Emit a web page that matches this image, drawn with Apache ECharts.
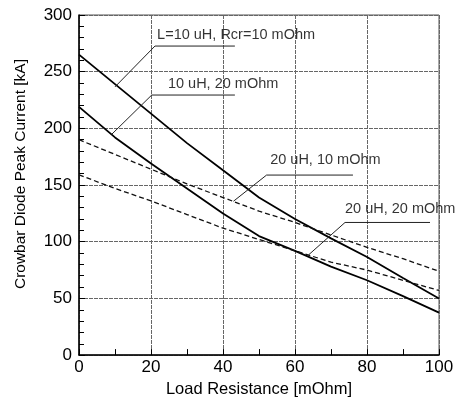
<!DOCTYPE html>
<html>
<head>
<meta charset="utf-8">
<script src="https://cdn.jsdelivr.net/npm/echarts@6/dist/echarts.min.js"></script>
<style>
  html, body { margin: 0; padding: 0; background: #fff; }
  #chart { width: 461px; height: 403px; }
</style>
</head>
<body>
<div id="chart"></div>
<script>
// load resistance [mOhm]
const xValues = [0, 10, 20, 30, 40, 50, 60, 70, 80, 90, 100]
// peak current [kA]
const l10r10 = [265, 239, 213, 187, 163, 139, 120, 103, 86.5, 68, 50]
const l10r20 = [219, 192, 169, 147, 125, 105, 92, 78, 66, 52, 37.5]
const l20r10 = [190, 177, 164, 151, 139, 127, 117, 106, 95, 85, 74]
const l20r20 = [159, 147, 136, 124, 112, 102, 92, 82, 75, 66, 57]

// annotation texts + leader lines (data coords)
const noteTexts = ['L=10 uH, Rcr=10 mOhm', '10 uH, 20 mOhm', '20 uH, 10 mOhm', '20 uH, 20 mOhm']
const notePos = [[21.7, 282.7], [24.7, 239.5], [53.1, 172], [73.9, 128.8]]
const leaders = [
  [[10.0, 236.6], [21.1, 272.6], [43.3, 272.6]],
  [[9.1, 194.8], [20.2, 229.4], [43.3, 229.4]],
  [[42.9, 135.7], [52.1, 158.8], [76.1, 158.8]],
  [[63.7, 88.2], [73.9, 117.0], [97.5, 117.0]]
]

const pair = (ys) => xValues.map((x, i) => [x, ys[i]])
const font = 'Liberation Sans, Arial, sans-serif'

const curve = (ys, dashed) => ({
  type: 'line',
  data: pair(ys),
  symbol: 'none',
  silent: true,
  lineStyle: dashed
    ? { color: '#111', width: 1.3, type: [5, 3] }
    : { color: '#000', width: 1.8 }
})

const leaderSeries = leaders.map(pts => ({
  type: 'line',
  data: pts,
  symbol: 'none',
  silent: true,
  lineStyle: { color: '#222', width: 1 }
}))

const option = {
  animation: false,
  grid: {
    left: 79, right: 22, top: 15, bottom: 41,
    show: true,
    borderColor: '#555',
    borderWidth: 1
  },
  xAxis: {
    type: 'value',
    min: 0, max: 100, interval: 20,
    name: 'Load Resistance [mOhm]',
    nameLocation: 'middle',
    nameGap: 19,
    nameTextStyle: { fontFamily: font, fontSize: 16.5, color: '#000' },
    axisLine: { lineStyle: { color: '#000', width: 1.5 } },
    axisTick: { inside: true, length: 6, lineStyle: { color: '#000' } },
    minorTick: { show: true, splitNumber: 2, length: 6, lineStyle: { color: '#000' } },
    axisLabel: { fontFamily: font, fontSize: 17, color: '#000', margin: 4 },
    splitLine: { show: true, lineStyle: { color: '#666', width: 1, type: [4, 1] } }
  },
  yAxis: {
    type: 'value',
    min: 0, max: 300, interval: 50,
    name: 'Crowbar Diode Peak Current [kA]',
    nameLocation: 'middle',
    nameGap: 50,
    nameTextStyle: { fontFamily: font, fontSize: 15.5, color: '#000', padding: [0, 0, 0, 22] },
    axisLine: { lineStyle: { color: '#000', width: 1.5 } },
    axisTick: { inside: true, length: 6, lineStyle: { color: '#000' } },
    minorTick: { show: true, splitNumber: 5, length: 5, lineStyle: { color: '#000' } },
    axisLabel: { fontFamily: font, fontSize: 17, color: '#000', margin: 7 },
    splitLine: { show: true, lineStyle: { color: '#666', width: 1, type: [4, 1] } }
  },
  series: [
    curve(l10r10, false),
    curve(l10r20, false),
    curve(l20r10, true),
    curve(l20r20, true),
    ...leaderSeries,
    {
      type: 'scatter',
      symbolSize: 0,
      silent: true,
      data: notePos.map((p, i) => [p[0], p[1], noteTexts[i]]),
      label: {
        show: true,
        position: [0, 0],
        align: 'left',
        verticalAlign: 'middle',
        fontFamily: font,
        fontSize: 14.5,
        color: '#000',
        formatter: p => p.data[2]
      }
    }
  ]
}

const chart = echarts.init(document.getElementById('chart'))
chart.setOption(option)
</script>
</body>
</html>
